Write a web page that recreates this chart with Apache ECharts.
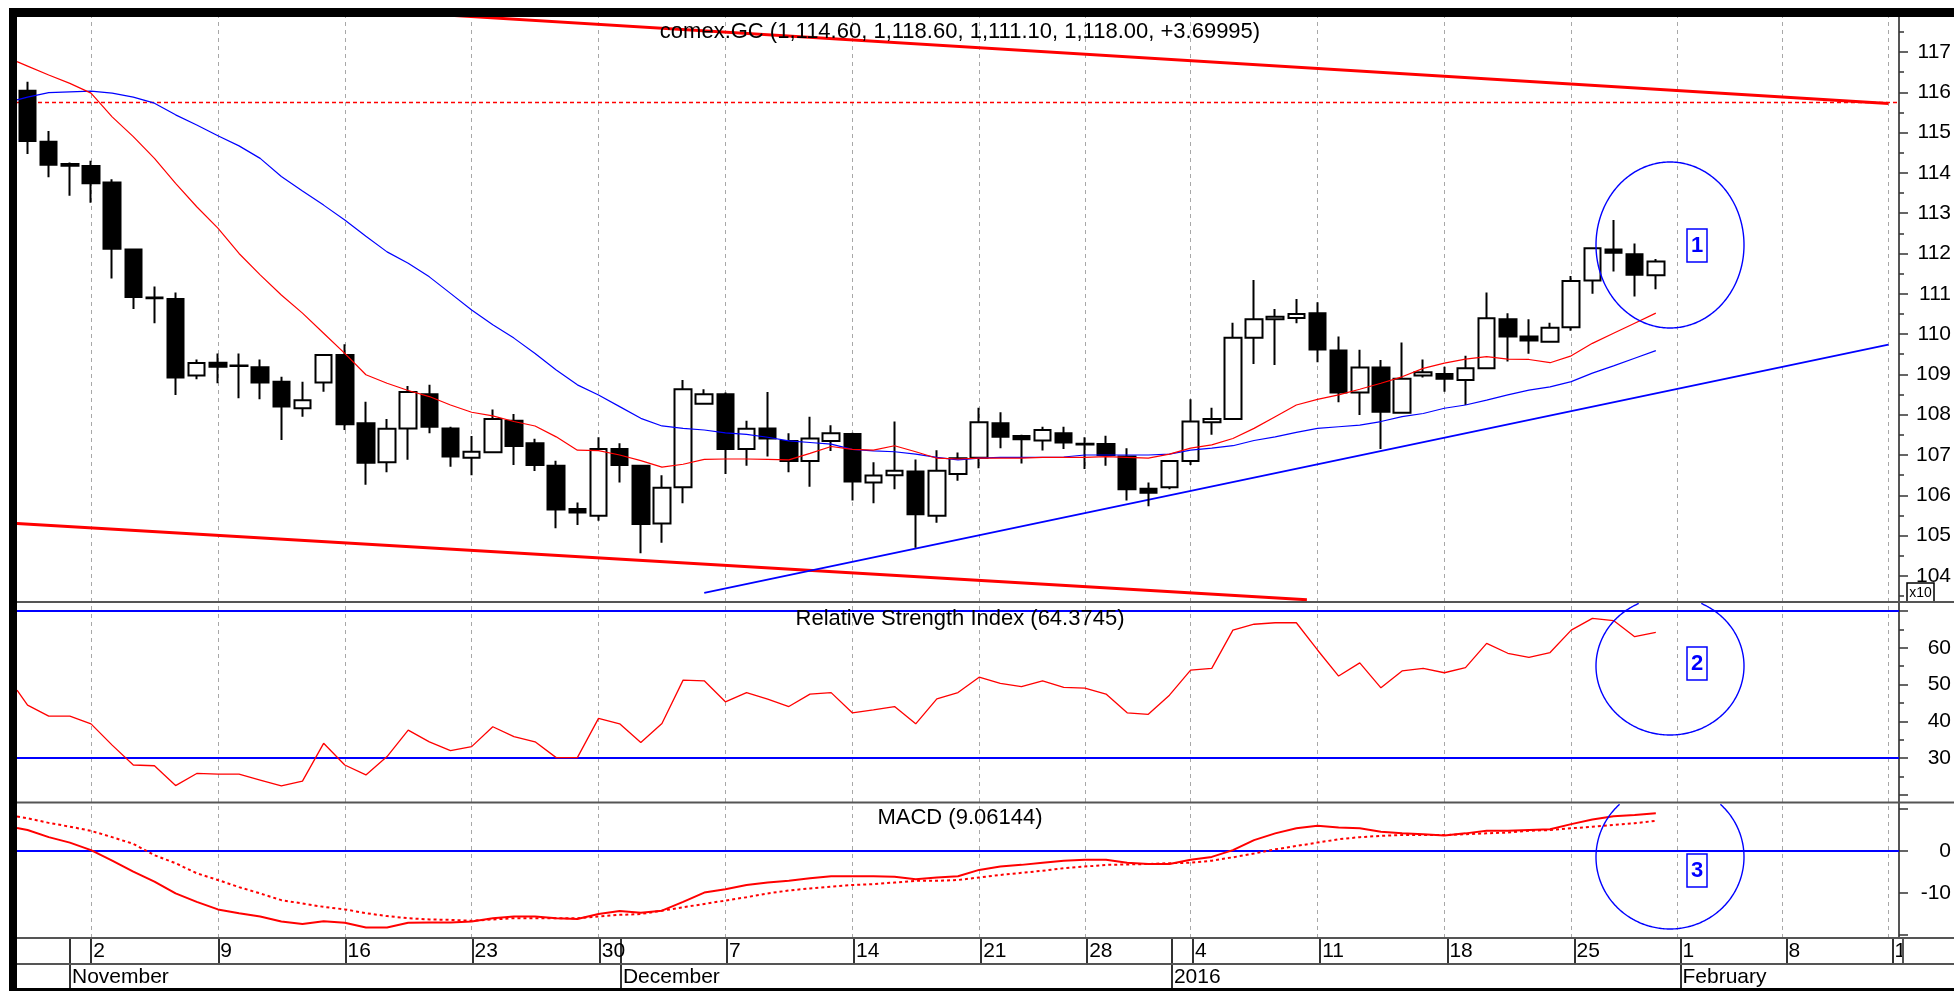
<!DOCTYPE html>
<html><head><meta charset="utf-8">
<script src="https://cdn.jsdelivr.net/npm/echarts@6/dist/echarts.min.js"></script>
<style>html,body{margin:0;padding:0;background:#fff}#c{width:1954px;height:991px}</style>
</head><body><div id="c"></div><script>
// ---------------- DATA ----------------
const dates = ['2015-10-29','2015-10-30','2015-11-01','2015-11-02','2015-11-03','2015-11-04','2015-11-05','2015-11-06','2015-11-08',
'2015-11-09','2015-11-10','2015-11-11','2015-11-12','2015-11-13','2015-11-15','2015-11-16','2015-11-17','2015-11-18','2015-11-19','2015-11-20','2015-11-22',
'2015-11-23','2015-11-24','2015-11-25','2015-11-26','2015-11-27','2015-11-29','2015-11-30','2015-12-01','2015-12-02','2015-12-03','2015-12-04','2015-12-06',
'2015-12-07','2015-12-08','2015-12-09','2015-12-10','2015-12-11','2015-12-13','2015-12-14','2015-12-15','2015-12-16','2015-12-17','2015-12-18','2015-12-20',
'2015-12-21','2015-12-22','2015-12-23','2015-12-24','2015-12-27','2015-12-28','2015-12-29','2015-12-30','2015-12-31','2016-01-03',
'2016-01-04','2016-01-05','2016-01-06','2016-01-07','2016-01-08','2016-01-10','2016-01-11','2016-01-12','2016-01-13','2016-01-14','2016-01-15','2016-01-17',
'2016-01-18','2016-01-19','2016-01-20','2016-01-21','2016-01-22','2016-01-24','2016-01-25','2016-01-26','2016-01-27','2016-01-28','2016-01-29',
'2016-02-01','2016-02-02','2016-02-03','2016-02-04','2016-02-05','2016-02-08','2016-02-09','2016-02-10','2016-02-11','2016-02-12','2016-02-15'];

const opens = [1160.4,1147.7,1142.2,1141.7,1137.6,1121.0,1109.1,1108.7,1089.7,1092.9,
1092.2,1091.8,1088.2,1081.6,1088.0,1094.8,1077.9,1068.2,1076.6,1085.1,
1076.6,1069.3,1070.7,1078.5,1072.9,1067.3,1056.6,1054.9,1071.5,1067.3,
1053.0,1062.0,1082.7,1085.1,1071.5,1076.6,1073.5,1068.5,1073.5,1075.2,
1063.2,1065.0,1065.9,1054.9,1065.3,1069.3,1077.9,1074.7,1073.6,1075.4,
1072.8,1072.7,1069.6,1061.6,1062.0,1068.5,1078.1,1078.9,1099.1,1103.7,
1104.0,1105.2,1095.9,1085.5,1091.7,1080.5,1089.7,1090.1,1088.6,1091.5,
1103.7,1099.4,1098.1,1101.7,1113.3,1121.0,1119.8,1114.6];
const closes = [1147.9,1142.0,1141.8,1137.4,1121.2,1109.2,1108.9,1089.2,1092.8,1091.9,
1092.1,1088.0,1082.0,1083.6,1094.8,1077.6,1068.1,1076.5,1085.6,1077.0,
1069.6,1070.8,1078.9,1072.2,1067.5,1056.5,1055.7,1071.5,1067.5,1052.9,
1061.9,1086.3,1085.1,1071.5,1076.5,1074.1,1068.5,1074.1,1075.4,1063.4,
1064.9,1066.1,1055.3,1066.1,1069.2,1078.1,1074.5,1073.9,1076.2,1073.1,
1072.6,1070.0,1061.5,1060.6,1068.5,1078.3,1078.9,1099.1,1103.7,1104.3,
1105.0,1096.2,1085.5,1091.7,1080.7,1088.9,1090.5,1088.9,1091.5,1103.9,
1099.4,1098.4,1101.6,1113.2,1121.3,1120.2,1114.7,1118.0];
const lows = [1144.7,1138.9,1134.3,1132.6,1113.8,1106.2,1102.7,1084.9,1088.8,1087.8,
1084.1,1083.8,1073.7,1079.5,1085.7,1076.2,1062.6,1065.7,1068.8,1075.4,
1067.1,1065.0,1070.5,1067.5,1066.0,1051.8,1052.6,1053.7,1063.2,1045.6,
1048.2,1058.0,1082.5,1065.3,1067.3,1069.6,1065.7,1062.1,1071.0,1058.7,
1058.0,1061.5,1047.0,1053.2,1063.6,1066.7,1071.7,1067.9,1071.1,1071.5,
1066.5,1067.3,1058.7,1057.3,1061.5,1067.5,1075.0,1078.7,1092.6,1092.3,
1102.7,1093.0,1083.1,1079.9,1071.5,1080.4,1089.2,1085.7,1082.4,1091.3,
1093.2,1095.1,1098.0,1100.8,1110.0,1115.5,1109.3,1111.1];
const highs = [1162.6,1150.4,1142.6,1143.0,1138.4,1121.0,1111.8,1110.3,1093.7,1095.2,
1095.2,1093.7,1089.4,1088.2,1094.9,1097.5,1083.2,1078.9,1087.1,1087.4,
1077.0,1074.7,1081.3,1080.2,1074.0,1068.6,1058.2,1074.4,1072.9,1067.5,
1065.0,1088.6,1086.3,1085.5,1078.5,1085.6,1075.4,1079.5,1077.4,1075.5,
1068.2,1078.3,1068.9,1071.2,1070.6,1081.7,1080.6,1075.0,1077.0,1077.0,
1074.4,1074.8,1071.7,1063.2,1068.6,1083.8,1081.7,1102.8,1113.4,1106.2,
1108.7,1107.9,1099.4,1096.1,1093.6,1097.9,1093.7,1091.9,1094.6,1110.3,
1105.2,1103.7,1102.8,1114.4,1121.4,1128.3,1122.5,1118.6];

const maFastEdge = 1167.6;
const maFast = [1166.5,1164.3,1162.2,1159.8,1153.9,1149.0,1143.6,1137.4,1131.6,1126.3,
1120.0,1114.7,1109.7,1105.2,1100.2,1095.2,1089.9,1087.8,1086.0,1084.5,
1082.4,1080.6,1079.7,1078.3,1077.2,1074.5,1071.2,1071.1,1070.0,1068.6,
1067.0,1067.7,1068.9,1069.0,1069.0,1068.9,1068.8,1070.4,1072.1,1071.4,
1071.2,1072.3,1070.8,1069.2,1069.0,1069.2,1069.2,1069.2,1069.4,1069.4,
1069.4,1069.6,1069.4,1069.2,1070.2,1071.7,1072.5,1074.1,1076.6,1079.5,
1082.4,1083.8,1084.9,1086.3,1087.8,1089.4,1091.5,1092.8,1093.8,1094.4,
1093.8,1093.7,1092.9,1094.6,1097.7,1100.2,1102.7,1105.2];
const maSlowEdge = 1158.1;
const maSlow = [1158.8,1159.9,1160.1,1160.3,1159.8,1158.8,1157.3,1154.4,1151.9,1149.2,
1146.7,1143.6,1139.1,1135.5,1132.0,1128.3,1124.3,1120.4,1117.6,1114.2,
1110.1,1106.0,1102.3,1099.0,1095.2,1091.1,1087.4,1084.9,1082.0,1079.1,
1077.2,1076.6,1076.2,1075.5,1075.1,1074.4,1073.5,1073.1,1072.7,1071.4,
1071.0,1070.8,1070.2,1069.4,1068.8,1069.2,1069.4,1069.4,1069.4,1069.5,
1070.0,1070.0,1070.0,1070.0,1070.2,1071.2,1071.7,1072.3,1073.6,1074.5,
1075.6,1076.6,1077.0,1077.4,1078.3,1079.5,1080.3,1081.6,1082.4,1083.6,
1084.9,1086.1,1086.9,1088.2,1090.3,1092.1,1094.0,1095.9];

const channelTop = [[20, 1179.1], [88, 1157.2]];
const channelBottom = [[-0.5, 1053.0], [60.5, 1034.1]];
const trendLine = [[32, 1035.8], [88, 1097.4]];
const resistance = 1157.5;

const rsiEdge = 48.5;
const rsi = [44.4,41.4,41.4,39.3,33.5,28.1,27.9,22.5,25.8,25.6,
25.6,24.0,22.4,23.7,34.0,28.1,25.4,30.4,37.6,34.4,
32.0,33.1,38.5,35.8,34.4,30.1,30.1,40.8,39.3,34.2,
39.4,51.2,51.0,45.3,47.8,46.0,44.0,47.4,47.8,42.3,
43.1,44.0,39.3,46.1,47.8,52.0,50.3,49.4,51.0,49.2,
49.0,47.4,42.3,41.9,47.1,53.9,54.4,64.8,66.4,66.8,
66.8,59.4,52.3,55.9,49.1,53.7,54.4,53.2,54.6,61.2,
58.5,57.4,58.7,64.8,68.0,67.4,63.0,64.2];
const rsiLevels = [70, 30];

const macdEdge = 5.5;
const macd = [5.0,3.3,2.0,0.2,-2.3,-4.9,-7.3,-10.1,-12.1,-13.9,
-14.8,-15.6,-16.8,-17.4,-16.7,-17.1,-18.2,-18.2,-17.1,-17.0,
-17.0,-16.8,-16.0,-15.6,-15.6,-16.0,-16.2,-15.0,-14.3,-14.7,
-14.2,-12.1,-9.9,-9.1,-8.1,-7.5,-7.1,-6.5,-6.0,-6.0,
-6.0,-6.1,-6.7,-6.3,-6.0,-4.5,-3.7,-3.3,-2.8,-2.3,
-2.1,-2.1,-2.8,-3.1,-3.1,-2.1,-1.4,0.2,2.6,4.2,
5.4,6.0,5.6,5.4,4.6,4.2,4.0,3.7,4.2,4.8,
4.8,5.0,5.2,6.4,7.5,8.3,8.6,9.0];
const signalEdge = 8.2;
const signal = [7.8,6.7,5.8,4.8,3.3,1.7,-1.0,-2.9,-5.3,-6.9,
-8.6,-10.1,-11.7,-12.5,-13.3,-13.9,-14.8,-15.5,-16.0,-16.3,
-16.4,-16.6,-16.3,-16.0,-16.0,-16.0,-16.0,-15.6,-15.2,-15.0,
-14.2,-13.4,-12.6,-11.8,-11.0,-10.1,-9.4,-8.9,-8.5,-8.1,
-7.9,-7.5,-7.1,-7.1,-6.9,-6.3,-5.7,-5.2,-4.7,-4.1,
-3.7,-3.3,-3.2,-3.1,-2.9,-2.8,-2.3,-1.5,-0.6,0.4,
1.2,2.0,2.8,3.3,3.6,3.8,3.8,3.8,4.0,4.2,
4.4,4.8,5.0,5.4,5.8,6.2,6.6,7.2];

const priceLabels = [1040,1050,1060,1070,1080,1090,1100,1110,1120,1130,1140,1150,1160,1170];
const priceMinor = [1035,1045,1055,1065,1075,1085,1095,1105,1115,1125,1135,1145,1155,1165,1175];
const rsiLabels = [30,40,50,60];
const rsiTicks = [20,30,40,50,60,70];
const rsiMinor = [25,35,45,55,65];
const macdLabels = [0,-10];
const macdTicks = [10,0,-10,-20];
const monthNames = {'2015-11':'November','2015-12':'December','2016-01':'2016','2016-02':'February'};
const titles = ['comex.GC (1,114.60, 1,118.60, 1,111.10, 1,118.00, +3.69995)', 'Relative Strength Index (64.3745)', 'MACD (9.06144)'];

// ---------------- BUILD ----------------
const FONT = 'Liberation Sans, Arial, sans-serif';
const idxs = dates.map((d, i) => i);
const mondayIdx = idxs.filter(i => new Date(dates[i] + 'T00:00:00Z').getUTCDay() === 1);
const monthIdx = idxs.filter(i => i > 0 && dates[i].slice(0, 7) !== dates[i - 1].slice(0, 7));
const candles = opens.map((o, i) => [o, closes[i], lows[i], highs[i]]);
const withEdge = (edge, arr) => [[-0.5, edge]].concat(arr.map((v, i) => [i, v]));
const vLines = mondayIdx.map(i => ({ xAxis: i }));
const gridDash = { color: '#a8a8a8', type: [4, 4], width: 1 };
const AX = '#555';

const chart = echarts.init(document.getElementById('c'), null, { renderer: 'canvas', width: 1954, height: 991 });

function valX(g) { return { type: 'value', gridIndex: g, min: -0.5, max: 88.5, show: false, axisLine: { onZero: false } }; }
function majorY(g, min, max, labels, ticks, fmt) {
  return { type: 'value', gridIndex: g, position: 'right', min: min, max: max,
    axisLine: { show: true, onZero: false, lineStyle: { color: AX, width: 2 } },
    axisTick: { show: true, length: 9, customValues: ticks, lineStyle: { color: '#333', width: 1.5 } },
    axisLabel: { show: true, customValues: labels, formatter: fmt, align: 'right', margin: 52,
      color: '#000', fontSize: 21, fontFamily: FONT },
    splitLine: { show: false } };
}
function minorY(g, min, max, ticks) {
  return { type: 'value', gridIndex: g, position: 'right', offset: 0, min: min, max: max,
    axisLine: { show: false, onZero: false }, axisLabel: { show: false }, splitLine: { show: false },
    axisTick: { show: true, length: 5, customValues: ticks, lineStyle: { color: '#333', width: 1.5 } } };
}
function rowX(g, ticks, len, margin, fmt) {
  return { type: 'value', gridIndex: g, min: -0.5, max: 88.5, position: 'top',
    axisLine: { show: false, onZero: false }, splitLine: { show: false },
    axisTick: { show: true, inside: true, length: len, customValues: ticks, lineStyle: { color: '#333', width: 2 } },
    axisLabel: { show: true, inside: true, customValues: ticks, formatter: fmt, align: 'left', verticalAlign: 'middle',
      margin: margin, padding: [0, 0, 0, 2], color: '#000', fontSize: 21, fontFamily: FONT } };
}
function ellipseEl(cx, cy, rx, ry, clipTop) {
  const pts = [];
  for (let k = 0; k <= 360; k++) {
    const t = k * Math.PI / 180;
    pts.push([cx + rx * Math.cos(t), cy + ry * Math.sin(t)]);
  }
  let runs = [], cur = [];
  pts.forEach(p => { if (clipTop == null || p[1] >= clipTop) cur.push(p); else { if (cur.length) runs.push(cur); cur = []; } });
  if (cur.length) runs.push(cur);
  if (runs.length > 1 && clipTop != null) { const last = runs.pop(); runs[0] = last.concat(runs[0]); }
  return runs.map(r => ({ type: 'polyline', z: 50, shape: { points: r }, style: { stroke: '#0000ff', fill: null, lineWidth: 1.4 } }));
}
function boxEl(x, y, txt) {
  return { type: 'group', z: 55, children: [
    { type: 'rect', shape: { x: x, y: y, width: 20, height: 33 }, style: { fill: '#fff', stroke: '#0000ff', lineWidth: 1.5 } },
    { type: 'text', x: x + 10, y: y + 17, style: { text: txt, font: 'bold 22px ' + FONT, fill: '#0000ff', align: 'center', verticalAlign: 'middle' } }
  ] };
}
function hLine(y) { return { type: 'line', z: 90, shape: { x1: 16, y1: y, x2: 1954, y2: y }, style: { stroke: AX, lineWidth: 2 } }; }
function title(txt, y) {
  return { type: 'text', x: 960, y: y, z: 60, style: { text: txt, font: '22px ' + FONT, fill: '#000', align: 'center', verticalAlign: 'middle' } };
}

const option = {
  animation: false,
  backgroundColor: '#fff',
  textStyle: { fontFamily: FONT },
  grid: [
    { left: 17, top: 17, width: 1886, height: 585 },
    { left: 17, top: 603, width: 1886, height: 199 },
    { left: 17, top: 803, width: 1886, height: 135 },
    { left: 17, top: 938, width: 1886, height: 26 },
    { left: 17, top: 938, width: 1886, height: 51 }
  ],
  xAxis: [
    { type: 'category', gridIndex: 0, data: dates, boundaryGap: true, show: false, axisLine: { onZero: false } },
    valX(0), valX(1), valX(2),
    rowX(3, mondayIdx, 26, 13, (v) => String(parseInt(dates[Math.round(v)].slice(8), 10))),
    rowX(4, monthIdx, 51, 39, (v) => monthNames[dates[Math.round(v)].slice(0, 7)] || '')
  ],
  yAxis: [
    majorY(0, 1033.52, 1178.68, priceLabels, priceLabels, (v) => String(Math.round(v / 10))),
    minorY(0, 1033.52, 1178.68, priceMinor),
    majorY(1, 18.03, 72.18, rsiLabels, rsiTicks, (v) => String(v)),
    minorY(1, 18.03, 72.18, rsiMinor),
    majorY(2, -20.71, 11.43, macdLabels, macdTicks, (v) => String(v)),
    { type: 'value', gridIndex: 3, show: false, axisLine: { onZero: false } },
    { type: 'value', gridIndex: 4, show: false, axisLine: { onZero: false } }
  ],
  series: [
    { type: 'line', name: 'channelBottom', xAxisIndex: 1, yAxisIndex: 0, data: channelBottom, symbol: 'none', z: 1,
      lineStyle: { color: '#ff0000', width: 3 },
      markLine: { silent: true, symbol: ['none', 'none'], label: { show: false }, z: 1, lineStyle: gridDash,
        data: vLines.concat([{ yAxis: resistance, lineStyle: { color: '#ff0000', type: [4, 3], width: 1.3 } }]) } },
    { type: 'line', name: 'channelTop', xAxisIndex: 1, yAxisIndex: 0, data: channelTop, symbol: 'none', z: 1,
      lineStyle: { color: '#ff0000', width: 3 } },
    { type: 'line', name: 'trend', xAxisIndex: 1, yAxisIndex: 0, data: trendLine, symbol: 'none', z: 3,
      lineStyle: { color: '#0000ff', width: 1.8 } },
    { type: 'candlestick', xAxisIndex: 0, yAxisIndex: 0, data: candles, barWidth: 17, z: 4,
      itemStyle: { color: '#ffffff', color0: '#000000', borderColor: '#000000', borderColor0: '#000000', borderColorDoji: '#000000', borderWidth: 2 } },
    { type: 'line', name: 'maSlow', xAxisIndex: 1, yAxisIndex: 0, data: withEdge(maSlowEdge, maSlow), symbol: 'none', z: 5,
      lineStyle: { color: '#0000ff', width: 1.2 } },
    { type: 'line', name: 'maFast', xAxisIndex: 1, yAxisIndex: 0, data: withEdge(maFastEdge, maFast), symbol: 'none', z: 5,
      lineStyle: { color: '#ff0000', width: 1.2 } },
    { type: 'line', name: 'rsi', xAxisIndex: 2, yAxisIndex: 2, data: withEdge(rsiEdge, rsi), symbol: 'none', z: 5,
      lineStyle: { color: '#ff0000', width: 1.3 },
      markLine: { silent: true, symbol: ['none', 'none'], label: { show: false }, z: 1, lineStyle: gridDash,
        data: vLines.concat(rsiLevels.map(v => ({ yAxis: v, lineStyle: { color: '#0000ff', type: 'solid', width: 2 } }))) } },
    { type: 'line', name: 'macd', xAxisIndex: 3, yAxisIndex: 4, data: withEdge(macdEdge, macd), symbol: 'none', z: 5,
      lineStyle: { color: '#ff0000', width: 2 },
      markLine: { silent: true, symbol: ['none', 'none'], label: { show: false }, z: 1, lineStyle: gridDash,
        data: vLines.concat([{ yAxis: 0, lineStyle: { color: '#0000ff', type: 'solid', width: 2 } }]) } },
    { type: 'line', name: 'signal', xAxisIndex: 3, yAxisIndex: 4, data: withEdge(signalEdge, signal), symbol: 'none', z: 5,
      lineStyle: { color: '#ff0000', width: 2, type: [3, 3] } }
  ],
  graphic: [].concat(
    [title(titles[0], 32), title(titles[1], 619), title(titles[2], 818)],
    ellipseEl(1670, 245, 74, 83, null),
    ellipseEl(1670, 666, 74, 69, 603),
    ellipseEl(1670, 857, 74, 72, 804),
    [boxEl(1687, 229, '1'), boxEl(1687, 647, '2'), boxEl(1687, 854, '3'),
    { type: 'group', z: 70, children: [
      { type: 'rect', shape: { x: 1907, y: 583, width: 27, height: 19 }, style: { fill: '#fff', stroke: '#000', lineWidth: 1.5 } },
      { type: 'text', x: 1920.5, y: 593, style: { text: 'x10', font: '14px ' + FONT, fill: '#000', align: 'center', verticalAlign: 'middle' } }
    ] },
    { type: 'rect', z: 80, shape: { x: 1904, y: 939, width: 50, height: 24 }, style: { fill: '#fff' } },
    { type: 'line', z: 90, shape: { x1: 1903, y1: 938, x2: 1903, y2: 964 }, style: { stroke: AX, lineWidth: 2 } },
    hLine(602), hLine(802.5), hLine(938), hLine(964),
    { type: 'rect', z: 100, shape: { x: 9, y: 8, width: 8, height: 983 }, style: { fill: '#000' } },
    { type: 'rect', z: 100, shape: { x: 9, y: 8, width: 1945, height: 9 }, style: { fill: '#000' } },
    { type: 'rect', z: 100, shape: { x: 9, y: 988, width: 1945, height: 3 }, style: { fill: '#000' } }]
  )
};
chart.setOption(option);
</script></body></html>
